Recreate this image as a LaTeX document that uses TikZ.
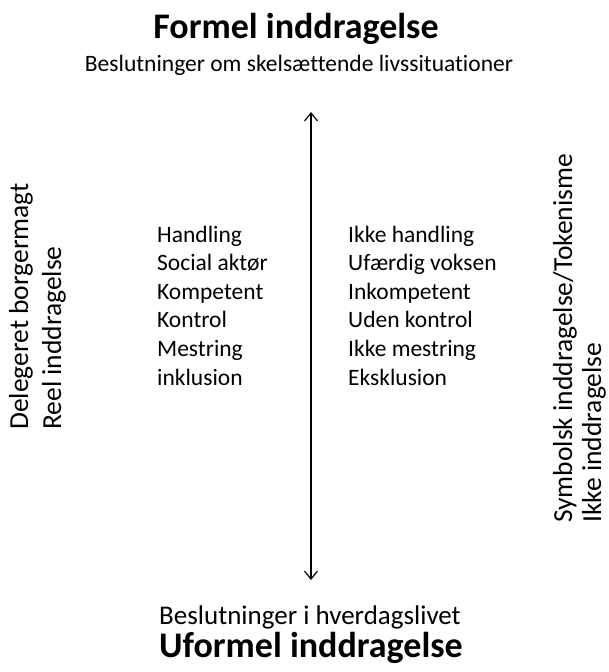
\documentclass[tikz,border=0pt]{standalone}
\usepackage{fontspec}
\setmainfont{Carlito}[Ligatures=NoCommon]
\usetikzlibrary{arrows.meta}
\begin{document}
\begin{tikzpicture}[x=1pt,y=-1pt,
  title/.style={font=\fontsize{36}{40}\selectfont\bfseries, inner sep=0pt},
  sub/.style={font=\fontsize{#1}{#1}\selectfont, inner sep=0pt},
  item/.style={font=\fontsize{23.5}{26}\selectfont, inner sep=0pt, anchor=base west},
  side/.style={font=\fontsize{27.5}{30}\selectfont, inner sep=0pt, rotate=90, anchor=base west}]
\useasboundingbox[fill=white] (0,0) rectangle (609,672);
\node[title, anchor=base] (t1) at (296,38) {Formel inddragelse};
\node[sub=23.5, anchor=base] (s1) at (299,71) {Beslutninger om skelsættende livssituationer};
\coordinate (up) at (311,112);
\coordinate (dn) at (311,580);
\draw[line width=1.2pt, {Straight Barb[length=8pt,width=13pt]}-{Straight Barb[length=8pt,width=13pt]}] (up) -- (dn);
\foreach \t [count=\i] in {Handling,Social aktør,Kompetent,Kontrol,Mestring,inklusion}
  \node[item] (l\i) at (157,{242+28.6*(\i-1)}) {\t};
\foreach \t [count=\i] in {Ikke handling,Ufærdig voksen,Inkompetent,Uden kontrol,Ikke mestring,Eksklusion}
  \node[item] (r\i) at (348,{242+28.6*(\i-1)}) {\t};
\node[side] (d1) at (28,430) {Delegeret borgermagt};
\node[side] (d2) at (61,430) {Reel inddragelse};
\node[side] (d3) at (572,523) {Symbolsk inddragelse/Tokenisme};
\node[side] (d4) at (601,523) {Ikke inddragelse};
\node[sub=27, anchor=base] (s2) at (310,624) {Beslutninger i hverdagslivet};
\node[title, anchor=base] (t2) at (311,657) {Uformel inddragelse};
\end{tikzpicture}
\end{document}
